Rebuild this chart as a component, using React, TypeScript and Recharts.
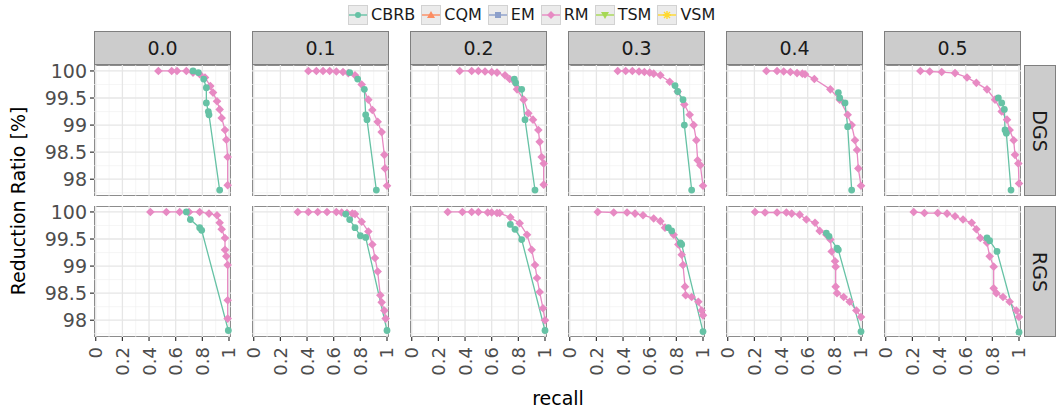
import React from 'react'
import { CartesianGrid, Line, LineChart, XAxis, YAxis } from 'recharts'

const FONT = '"DejaVu Sans", sans-serif'

const noiseLevels = ['0.0', '0.1', '0.2', '0.3', '0.4', '0.5']
const selections = ['DGS', 'RGS']
const methods = ['CBRB', 'CQM', 'EM', 'RM', 'TSM', 'VSM']
const methodColors = ['#66c2a5', '#fc8d62', '#8da0cb', '#e78ac3', '#a6d854', '#ffd92f']
const xTicks = [0, 0.2, 0.4, 0.6, 0.8, 1]
const xMinor = [0.1, 0.3, 0.5, 0.7, 0.9]
const yTicks = [98, 98.5, 99, 99.5, 100]
const yMinor = [97.75, 98.25, 98.75, 99.25, 99.75]

// [recall, reduction ratio %]
const rmDgs00 = [[0.47, 100], [0.57, 100], [0.61, 100], [0.68, 100], [0.73, 99.97], [0.78, 99.94], [0.82, 99.88], [0.86, 99.72], [0.88, 99.6], [0.91, 99.44], [0.93, 99.29], [0.945, 99.13], [0.97, 98.91], [0.98, 98.73], [0.99, 98.41], [0.99, 97.89]]
const cbrbDgs00 = [[0.73, 100], [0.77, 99.97], [0.81, 99.85], [0.83, 99.69], [0.83, 99.41], [0.845, 99.25], [0.85, 99.19], [0.93, 97.8]]
const rmDgs01 = [[0.41, 100], [0.47, 100], [0.52, 100], [0.57, 100], [0.62, 99.99], [0.67, 99.98], [0.71, 99.96], [0.76, 99.92], [0.81, 99.75], [0.86, 99.47], [0.89, 99.28], [0.93, 99.06], [0.96, 98.87], [0.98, 98.45], [0.985, 98.2], [1.0, 97.88]]
const cbrbDgs01 = [[0.72, 99.97], [0.78, 99.85], [0.83, 99.66], [0.84, 99.19], [0.85, 99.1], [0.92, 97.8]]
const rmDgs02 = [[0.36, 100], [0.45, 100], [0.5, 100], [0.55, 99.99], [0.6, 99.98], [0.64, 99.97], [0.7, 99.92], [0.735, 99.85], [0.79, 99.66], [0.84, 99.47], [0.875, 99.22], [0.91, 99.1], [0.95, 98.91], [0.96, 98.69], [0.975, 98.41], [0.99, 98.29], [0.99, 97.9]]
const cbrbDgs02 = [[0.77, 99.85], [0.78, 99.78], [0.825, 99.66], [0.85, 99.1], [0.925, 97.8]]
const rmDgs03 = [[0.36, 100], [0.42, 100], [0.47, 100], [0.52, 99.99], [0.56, 99.98], [0.6, 99.97], [0.63, 99.95], [0.68, 99.92], [0.75, 99.8], [0.81, 99.62], [0.86, 99.38], [0.9, 99.19], [0.93, 99.0], [0.95, 98.72], [0.96, 98.35], [0.98, 98.26], [1.0, 97.88]]
const cbrbDgs03 = [[0.79, 99.73], [0.81, 99.62], [0.85, 99.47], [0.86, 99.0], [0.915, 97.8]]
const rmDgs04 = [[0.29, 100], [0.37, 100], [0.42, 99.99], [0.47, 99.98], [0.52, 99.96], [0.56, 99.95], [0.58, 99.94], [0.65, 99.85], [0.77, 99.66], [0.84, 99.47], [0.9, 99.19], [0.93, 99.0], [0.955, 98.72], [0.97, 98.54], [0.98, 98.2], [1.0, 97.88]]
const cbrbDgs04 = [[0.83, 99.6], [0.84, 99.5], [0.88, 99.41], [0.9, 98.97], [0.93, 97.8]]
const rmDgs05 = [[0.26, 100], [0.33, 99.99], [0.42, 99.98], [0.52, 99.96], [0.61, 99.88], [0.68, 99.78], [0.76, 99.66], [0.82, 99.47], [0.87, 99.25], [0.91, 99.1], [0.93, 98.91], [0.96, 98.72], [0.97, 98.45], [0.995, 98.29], [1.0, 97.92]]
const cbrbDgs05 = [[0.845, 99.5], [0.87, 99.41], [0.89, 99.29], [0.895, 98.91], [0.905, 98.85], [0.94, 97.8]]

const rmRgs00 = [[0.41, 100], [0.53, 100], [0.63, 100], [0.7, 100], [0.78, 100], [0.85, 99.97], [0.91, 99.94], [0.93, 99.8], [0.945, 99.68], [0.97, 99.52], [0.97, 99.3], [0.98, 99.18], [0.99, 99.02], [0.99, 98.37], [0.99, 98.03]]
const cbrbRgs00 = [[0.68, 100], [0.71, 99.86], [0.78, 99.71], [0.795, 99.66], [0.995, 97.81]]
const rmRgs01 = [[0.33, 100], [0.41, 100], [0.48, 100], [0.55, 100], [0.62, 100], [0.66, 99.99], [0.7, 99.98], [0.74, 99.97], [0.76, 99.96], [0.81, 99.82], [0.86, 99.64], [0.89, 99.4], [0.91, 99.15], [0.93, 98.9], [0.95, 98.46], [0.96, 98.33], [0.98, 98.18], [0.99, 98.03]]
const cbrbRgs01 = [[0.69, 99.96], [0.72, 99.86], [0.76, 99.71], [0.8, 99.56], [0.84, 99.53], [1.0, 97.81]]
const rmRgs02 = [[0.27, 100], [0.38, 100], [0.45, 100], [0.5, 100], [0.57, 99.99], [0.6, 99.99], [0.64, 99.98], [0.66, 99.98], [0.74, 99.9], [0.81, 99.79], [0.865, 99.58], [0.9, 99.3], [0.925, 99.02], [0.94, 98.78], [0.96, 98.52], [0.985, 98.22], [1.0, 98.0]]
const cbrbRgs02 = [[0.74, 99.77], [0.775, 99.68], [0.825, 99.49], [1.0, 97.81]]
const rmRgs03 = [[0.21, 100], [0.33, 99.99], [0.43, 99.99], [0.49, 99.97], [0.55, 99.94], [0.63, 99.88], [0.68, 99.83], [0.715, 99.71], [0.78, 99.58], [0.815, 99.4], [0.84, 99.21], [0.85, 99.02], [0.865, 98.62], [0.87, 98.46], [0.915, 98.43], [0.965, 98.34], [0.99, 98.18], [1.0, 98.09]]
const cbrbRgs03 = [[0.74, 99.71], [0.765, 99.65], [0.83, 99.43], [0.84, 99.4], [1.0, 97.79]]
const rmRgs04 = [[0.205, 100], [0.28, 99.99], [0.37, 99.99], [0.44, 99.99], [0.48, 99.97], [0.54, 99.95], [0.59, 99.86], [0.655, 99.8], [0.69, 99.65], [0.74, 99.58], [0.77, 99.49], [0.78, 99.27], [0.805, 99.09], [0.81, 98.99], [0.81, 98.62], [0.82, 98.5], [0.87, 98.43], [0.915, 98.34], [0.965, 98.18], [1.0, 98.06]]
const cbrbRgs04 = [[0.74, 99.61], [0.76, 99.55], [0.82, 99.33], [0.83, 99.3], [1.0, 97.79]]
const rmRgs05 = [[0.21, 100], [0.29, 99.98], [0.39, 99.98], [0.46, 99.97], [0.52, 99.92], [0.58, 99.86], [0.645, 99.8], [0.68, 99.68], [0.71, 99.52], [0.76, 99.43], [0.78, 99.18], [0.81, 98.99], [0.81, 98.59], [0.83, 98.5], [0.88, 98.43], [0.93, 98.34], [0.98, 98.18], [1.0, 98.06]]
const cbrbRgs05 = [[0.76, 99.52], [0.78, 99.47], [0.835, 99.27], [1.0, 97.78]]

const rmByPanel = [
  [rmDgs00, rmDgs01, rmDgs02, rmDgs03, rmDgs04, rmDgs05],
  [rmRgs00, rmRgs01, rmRgs02, rmRgs03, rmRgs04, rmRgs05]
]
const cbrbByPanel = [
  [cbrbDgs00, cbrbDgs01, cbrbDgs02, cbrbDgs03, cbrbDgs04, cbrbDgs05],
  [cbrbRgs00, cbrbRgs01, cbrbRgs02, cbrbRgs03, cbrbRgs04, cbrbRgs05]
]

const toRows = (arr: number[][]) => arr.map(([recall, rr]) => ({ recall, rr }))

const X_DOMAIN = [-0.013, 1.015]
const Y_DOMAIN = [97.69, 100.11]
const PW = 137
const PH = 131
const COL_STEP = 158
const LEFT0 = 94
const ROW_TOP = [65, 206]
const Y_AXIS_W = 70
const X_AXIS_H = 60
const PAD = 12 // room around each plot so marks and labels at the edges are not cut
const BORDER = '#8c8c8c'
const STRIP_FILL = '#cccccc'
const STRIP_BORDER = '#7f7f7f'

const cbrbColor = methodColors[0]
const rmColor = methodColors[3]

const circleDot = (props: any) => {
  const { cx, cy, index } = props
  if (cx == null || cy == null) return <g key={`c${index}`} />
  return <circle key={`c${index}`} cx={cx} cy={cy} r={3.4} fill={cbrbColor} />
}

const diamondDot = (props: any) => {
  const { cx, cy, index } = props
  if (cx == null || cy == null) return <g key={`d${index}`} />
  const s = 4.3
  return <path key={`d${index}`} d={`M${cx},${cy - s}L${cx + s},${cy}L${cx},${cy + s}L${cx - s},${cy}Z`} fill={rmColor} />
}

const fmtX = (v: number) => (v === 0 ? '0' : v === 1 ? '1' : String(v))

const XTick = (props: any) => {
  const { x, y, payload } = props
  return (
    <g transform={`translate(${x},${y})`}>
      <text
        transform="rotate(-90)"
        x={-4}
        y={0}
        dy="0.36em"
        textAnchor="end"
        fill="#4d4d4d"
        fontSize={18}
        fontFamily={FONT}
      >
        {fmtX(payload.value)}
      </text>
    </g>
  )
}

function Panel({ row, col }: { row: number; col: number }) {
  const showY = col === 0
  const showX = row === 1
  const panelLeft = LEFT0 + col * COL_STEP
  const chartLeft = panelLeft - PAD - (showY ? Y_AXIS_W : 0)
  const width = PW + 2 * PAD + (showY ? Y_AXIS_W : 0)
  const height = PH + 2 * PAD + (showX ? X_AXIS_H : 0)
  const rm = toRows(rmByPanel[row][col])
  const cbrb = toRows(cbrbByPanel[row][col])

  return (
    <>
      <div
        style={{
          position: 'absolute',
          left: panelLeft,
          top: ROW_TOP[row],
          width: PW,
          height: PH,
          boxSizing: 'border-box',
          border: `1.2px solid ${BORDER}`
        }}
      />
      <div style={{ position: 'absolute', left: chartLeft, top: ROW_TOP[row] - PAD }}>
        <LineChart width={width} height={height} margin={{ top: PAD, right: PAD, bottom: PAD, left: PAD }}>
          <CartesianGrid horizontalValues={yMinor} verticalValues={xMinor} stroke="#f0f0f0" strokeWidth={0.7} />
          <CartesianGrid horizontalValues={yTicks} verticalValues={xTicks} stroke="#e6e6e6" strokeWidth={1.3} />
          <XAxis
            type="number"
            dataKey="recall"
            domain={X_DOMAIN}
            ticks={xTicks}
            interval={0}
            hide={!showX}
            height={X_AXIS_H}
            axisLine={false}
            tickLine={{ stroke: '#333333', strokeWidth: 1.2 }}
            tickSize={4}
            tick={<XTick />}
          />
          <YAxis
            type="number"
            dataKey="rr"
            domain={Y_DOMAIN}
            ticks={yTicks}
            interval={0}
            hide={!showY}
            width={Y_AXIS_W}
            axisLine={false}
            tickLine={{ stroke: '#333333', strokeWidth: 1.2 }}
            tickSize={4}
            tickMargin={3}
            tick={{ fill: '#4d4d4d', fontSize: 19, fontFamily: FONT }}
            tickFormatter={(v) => String(v)}
          />
          <Line
            data={rm}
            dataKey="rr"
            type="linear"
            stroke={rmColor}
            strokeWidth={1.3}
            dot={diamondDot}
            activeDot={false}
            isAnimationActive={false}
          />
          <Line
            data={cbrb}
            dataKey="rr"
            type="linear"
            stroke={cbrbColor}
            strokeWidth={1.3}
            dot={circleDot}
            activeDot={false}
            isAnimationActive={false}
          />
        </LineChart>
      </div>
    </>
  )
}

function LegendKey({ index }: { index: number }) {
  const c = methodColors[index]
  const m = 10
  let marker: React.ReactNode = null
  if (index === 0) marker = <circle cx={m} cy={m} r={3} fill={c} />
  if (index === 1) marker = <path d={`M${m},${m - 4}L${m + 4},${m + 3}L${m - 4},${m + 3}Z`} fill={c} />
  if (index === 2) marker = <rect x={m - 3} y={m - 3} width={6} height={6} fill={c} />
  if (index === 3) marker = <path d={`M${m},${m - 4}L${m + 4},${m}L${m},${m + 4}L${m - 4},${m}Z`} fill={c} />
  if (index === 4) marker = <path d={`M${m},${m + 4}L${m + 4},${m - 3}L${m - 4},${m - 3}Z`} fill={c} />
  if (index === 5)
    marker = (
      <path
        d={`M${m - 4},${m}L${m + 4},${m}M${m},${m - 4}L${m},${m + 4}M${m - 3},${m - 3}L${m + 3},${m + 3}M${m - 3},${m + 3}L${m + 3},${m - 3}`}
        stroke={c}
        strokeWidth={1.4}
      />
    )
  return (
    <svg width={20} height={20} style={{ display: 'block' }}>
      <rect x={0.5} y={0.5} width={19} height={19} fill="#ebebeb" stroke="#d2d2d2" />
      <line x1={1} y1={m} x2={19} y2={m} stroke={c} strokeWidth={1.4} />
      {marker}
    </svg>
  )
}

export default function App() {
  return (
    <div
      style={{
        position: 'absolute',
        left: 0,
        top: 0,
        width: 1059,
        height: 410,
        background: '#ffffff',
        fontFamily: FONT,
        overflow: 'hidden'
      }}
    >
      {/* legend */}
      <div style={{ position: 'absolute', left: 348, top: 5, display: 'flex', alignItems: 'center', height: 20 }}>
        {methods.map((m, i) => (
          <div key={m} style={{ display: 'flex', alignItems: 'center', marginRight: 6 }}>
            <LegendKey index={i} />
            <span style={{ fontSize: 16, color: '#1a1a1a', marginLeft: 3, lineHeight: '20px' }}>{m}</span>
          </div>
        ))}
      </div>

      {/* top strips */}
      {noiseLevels.map((n, col) => (
        <div
          key={n}
          style={{
            position: 'absolute',
            left: LEFT0 + col * COL_STEP,
            top: 31,
            width: PW,
            height: 34,
            boxSizing: 'border-box',
            background: STRIP_FILL,
            border: `1.5px solid ${STRIP_BORDER}`,
            display: 'flex',
            alignItems: 'center',
            justifyContent: 'center',
            fontSize: 19,
            color: '#1a1a1a'
          }}
        >
          {n}
        </div>
      ))}

      {/* right strips */}
      {selections.map((s, row) => (
        <div
          key={s}
          style={{
            position: 'absolute',
            left: 1024,
            top: ROW_TOP[row],
            width: 32,
            height: PH,
            boxSizing: 'border-box',
            background: STRIP_FILL,
            border: `1.5px solid ${STRIP_BORDER}`,
            display: 'flex',
            alignItems: 'center',
            justifyContent: 'center'
          }}
        >
          <span style={{ transform: 'rotate(90deg)', fontSize: 19, color: '#1a1a1a', whiteSpace: 'nowrap' }}>{s}</span>
        </div>
      ))}

      {selections.map((s, row) =>
        noiseLevels.map((n, col) => <Panel key={`${s}-${n}`} row={row} col={col} />)
      )}

      {/* axis titles */}
      <div
        style={{
          position: 'absolute',
          left: 18,
          top: 201,
          transform: 'translate(-50%, -50%) rotate(-90deg)',
          fontSize: 19,
          color: '#000',
          whiteSpace: 'nowrap'
        }}
      >
        Reduction Ratio [%]
      </div>
      <div
        style={{
          position: 'absolute',
          left: 558,
          top: 398,
          transform: 'translate(-50%, -50%)',
          fontSize: 19,
          color: '#000',
          whiteSpace: 'nowrap'
        }}
      >
        recall
      </div>
    </div>
  )
}
